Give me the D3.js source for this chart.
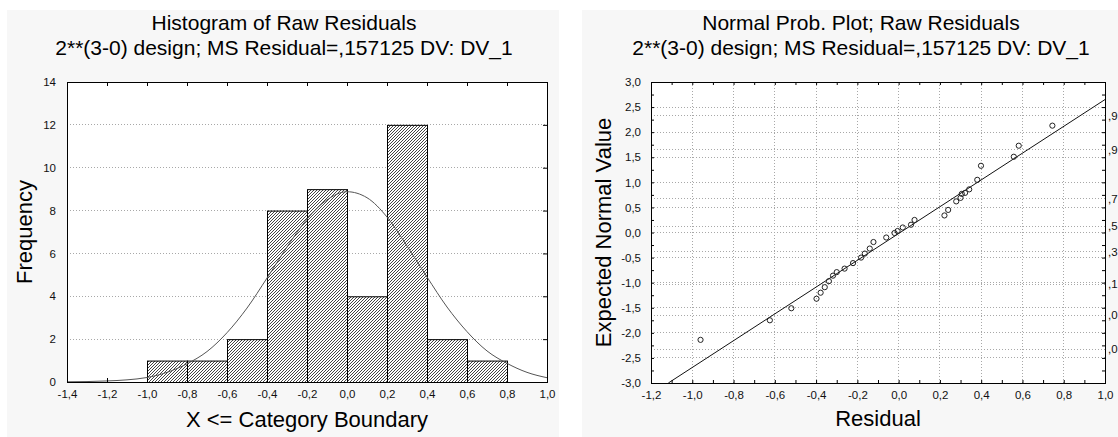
<!DOCTYPE html>
<html>
<head>
<meta charset="utf-8">
<script src="https://cdn.jsdelivr.net/npm/d3@7"></script>
<style>
  html, body { margin: 0; padding: 0; background: #ffffff; }
  svg { display: block; font-family: "Liberation Sans", Arial, sans-serif; }
</style>
</head>
<body>
<svg id="chart" width="1118" height="437"></svg>
<script>
// ---------------- DATA ----------------
// Histogram of raw residuals (bins are (start, end])
const binStart  = [-1.0, -0.8, -0.6, -0.4, -0.2, 0.0, 0.2, 0.4, 0.6];
const binEnd    = [-0.8, -0.6, -0.4, -0.2, 0.0, 0.2, 0.4, 0.6, 0.8];
const binCounts = [1, 1, 2, 8, 9, 4, 12, 2, 1];

// Fitted normal curve
const curveX = [-1.4, -1.3, -1.2, -1.1, -1.0, -0.9, -0.8, -0.7, -0.6, -0.5, -0.4, -0.3, -0.2, -0.1,
                 0.0, 0.1, 0.2, 0.3, 0.4, 0.5, 0.6, 0.7, 0.8, 0.9, 1.0];
const curveY = [0.01, 0.02, 0.05, 0.1, 0.21, 0.45, 0.85, 1.42, 2.3, 3.45, 4.85, 6.3, 7.6, 8.5,
                8.88, 8.6, 7.7, 6.35, 4.9, 3.5, 2.35, 1.45, 0.87, 0.45, 0.2];

const histXTicks = [-1.4, -1.2, -1.0, -0.8, -0.6, -0.4, -0.2, 0.0, 0.2, 0.4, 0.6, 0.8, 1.0];
const histYTicks = [0, 2, 4, 6, 8, 10, 12, 14];

// Normal probability plot: residual vs expected normal value
const residuals = [-0.96, -0.624, -0.52, -0.398, -0.378, -0.358, -0.338, -0.318, -0.30, -0.262,
                   -0.221, -0.182, -0.164, -0.140, -0.122, -0.06, -0.02, -0.005, 0.02, 0.06,
                   0.077, 0.222, 0.24, 0.279, 0.30, 0.306, 0.322, 0.342, 0.381, 0.399,
                   0.558, 0.582, 0.745];
const expectedNormal = [-2.14, -1.75, -1.51, -1.32, -1.20, -1.09, -0.97, -0.86, -0.79, -0.72,
                        -0.61, -0.50, -0.42, -0.32, -0.19, -0.10, -0.01, 0.03, 0.10, 0.155,
                        0.25, 0.34, 0.45, 0.62, 0.69, 0.77, 0.79, 0.86, 1.05, 1.33,
                        1.51, 1.73, 2.13];
// Reference line end points
const lineX = [-1.116, 1.0];
const lineY = [-3.0, 2.65];

const probXTicks = [-1.2, -1.0, -0.8, -0.6, -0.4, -0.2, 0.0, 0.2, 0.4, 0.6, 0.8, 1.0];
const probYTicks = [-3.0, -2.5, -2.0, -1.5, -1.0, -0.5, 0.0, 0.5, 1.0, 1.5, 2.0, 2.5, 3.0];
// probability labels (visible part at the picture's right edge)
const probLabels = [",9", ",9", ",7", ",5", ",3", ",1", ",0", ",0"];
const probLabelZ = [2.326, 1.645, 0.674, 0.126, -0.385, -1.036, -1.645, -2.326];

const titleL1 = "Histogram of Raw Residuals";
const titleR1 = "Normal Prob. Plot; Raw Residuals";
const subTitle = "2**(3-0) design; MS Residual=,157125 DV: DV_1";

// ---------------- DRAWING ----------------
const svg = d3.select("#chart");
const fmt1 = v => v.toFixed(1).replace(".", ",");
const fmt0 = v => String(v);
const TICK_FS = 11.5, TITLE_FS = 21, AXT_FS = 22;

// Panel backgrounds
svg.append("rect").attr("x", 7).attr("y", 10).attr("width", 552).attr("height", 427).attr("fill", "#f7f7f7");
svg.append("rect").attr("x", 582).attr("y", 10).attr("width", 536).attr("height", 427).attr("fill", "#f7f7f7");

// Hatch pattern
const defs = svg.append("defs");
const pat = defs.append("pattern").attr("id", "hatch").attr("patternUnits", "userSpaceOnUse")
  .attr("width", 3).attr("height", 3);
pat.append("rect").attr("width", 3).attr("height", 3).attr("fill", "#ffffff");
pat.append("path").attr("d", "M-1,1 L1,-1 M0,3 L3,0 M2,4 L4,2")
  .attr("stroke", "#222").attr("stroke-width", 0.85);

defs.append("clipPath").attr("id", "clipR").append("rect")
  .attr("x", 651).attr("y", 82).attr("width", 454).attr("height", 301);

// ---------- LEFT: histogram ----------
const xL = d3.scaleLinear().domain([-1.4, 1.0]).range([67, 547]);
const yL = d3.scaleLinear().domain([0, 14]).range([382, 82]);
const gL = svg.append("g");

gL.append("rect").attr("x", xL(-1.4)).attr("y", yL(14))
  .attr("width", xL(1.0) - xL(-1.4)).attr("height", yL(0) - yL(14)).attr("fill", "#fff");

// grid
gL.append("g").selectAll("line").data(histYTicks.filter(d => d > 0 && d < 14)).join("line")
  .attr("x1", xL(-1.4)).attr("x2", xL(1.0)).attr("y1", d => yL(d)).attr("y2", d => yL(d))
  .attr("stroke", "#a8a8a8").attr("stroke-dasharray", "1,2").attr("stroke-width", 1)
  .attr("shape-rendering", "crispEdges");

// bars
gL.append("g").selectAll("rect").data(binCounts).join("rect")
  .attr("x", (d, i) => xL(binStart[i]) + 0.5)
  .attr("y", d => yL(d) + 0.5)
  .attr("width", (d, i) => xL(binEnd[i]) - xL(binStart[i]))
  .attr("height", d => yL(0) - yL(d))
  .attr("fill", "url(#hatch)").attr("stroke", "#000").attr("stroke-width", 1);

// normal curve
const curveLine = d3.line().x(d => xL(d[0])).y(d => yL(d[1])).curve(d3.curveMonotoneX);
gL.append("path").datum(curveX.map((x, i) => [x, curveY[i]]))
  .attr("d", curveLine).attr("fill", "none").attr("stroke", "#555").attr("stroke-width", 1);

// axes
const axL = (sel, axis) => sel.call(axis).call(g => g.select(".domain").remove())
  .call(g => g.selectAll("text").attr("font-size", TICK_FS).attr("fill", "#111").attr("font-family", "Liberation Sans, Arial, sans-serif"))
  .call(g => g.selectAll("line").attr("stroke", "#000"));
gL.append("g").attr("transform", `translate(0,${yL(0)})`)
  .call(g => axL(g, d3.axisBottom(xL).tickValues(histXTicks).tickFormat(fmt1).tickSizeInner(-4).tickSizeOuter(0).tickPadding(8)));
gL.append("g").attr("transform", `translate(0,${yL(14)})`)
  .call(g => axL(g, d3.axisTop(xL).tickValues(histXTicks).tickFormat("").tickSizeInner(-4).tickSizeOuter(0)));
gL.append("g").attr("transform", `translate(${xL(-1.4)},0)`)
  .call(g => axL(g, d3.axisLeft(yL).tickValues(histYTicks).tickFormat(fmt0).tickSizeInner(0).tickSizeOuter(0).tickPadding(11)));
gL.append("g").attr("transform", `translate(${xL(1.0)},0)`)
  .call(g => axL(g, d3.axisRight(yL).tickValues(histYTicks).tickFormat("").tickSizeInner(-4).tickSizeOuter(0)));

gL.append("rect").attr("x", xL(-1.4) + 0.5).attr("y", yL(14) + 0.5)
  .attr("width", xL(1.0) - xL(-1.4)).attr("height", yL(0) - yL(14))
  .attr("fill", "none").attr("stroke", "#000").attr("stroke-width", 1);

// titles
gL.append("text").attr("x", 284).attr("y", 30).attr("text-anchor", "middle").attr("font-size", TITLE_FS).text(titleL1);
gL.append("text").attr("x", 284).attr("y", 55).attr("text-anchor", "middle").attr("font-size", TITLE_FS).text(subTitle);
gL.append("text").attr("transform", `translate(32,${(yL(0) + yL(14)) / 2}) rotate(-90)`)
  .attr("text-anchor", "middle").attr("font-size", AXT_FS).text("Frequency");
gL.append("text").attr("x", (xL(-1.4) + xL(1.0)) / 2).attr("y", 427).attr("text-anchor", "middle")
  .attr("font-size", AXT_FS).text("X <= Category Boundary");

// ---------- RIGHT: normal probability plot ----------
const xR = d3.scaleLinear().domain([-1.2, 1.0]).range([651, 1105]);
const yR = d3.scaleLinear().domain([-3, 3]).range([383, 82]);
const gR = svg.append("g");

gR.append("rect").attr("x", xR(-1.2)).attr("y", yR(3))
  .attr("width", xR(1.0) - xR(-1.2)).attr("height", yR(-3) - yR(3)).attr("fill", "#fff");

const gridStyle = s => s.attr("stroke", "#a8a8a8").attr("stroke-dasharray", "1,2").attr("stroke-width", 1)
  .attr("shape-rendering", "crispEdges");
gR.append("g").selectAll("line").data(probXTicks.slice(1, -1)).join("line")
  .attr("x1", d => xR(d)).attr("x2", d => xR(d)).attr("y1", yR(3)).attr("y2", yR(-3)).call(gridStyle);
gR.append("g").selectAll("line").data(probYTicks.slice(1, -1)).join("line")
  .attr("x1", xR(-1.2)).attr("x2", xR(1.0)).attr("y1", d => yR(d)).attr("y2", d => yR(d)).call(gridStyle);
gR.append("g").selectAll("line").data(probLabelZ).join("line")
  .attr("x1", xR(-1.2)).attr("x2", xR(1.0)).attr("y1", d => yR(d)).attr("y2", d => yR(d)).call(gridStyle);

// fitted line
gR.append("line").attr("clip-path", "url(#clipR)")
  .attr("x1", xR(lineX[0])).attr("y1", yR(lineY[0])).attr("x2", xR(lineX[1])).attr("y2", yR(lineY[1]))
  .attr("stroke", "#111").attr("stroke-width", 1);

// points
gR.append("g").selectAll("circle").data(residuals).join("circle")
  .attr("cx", d => xR(d)).attr("cy", (d, i) => yR(expectedNormal[i])).attr("r", 2.6)
  .attr("fill", "none").attr("stroke", "#222").attr("stroke-width", 1);

// axes
const minorX = d3.range(-12, 11).map(v => v / 10);
const minorY = d3.range(-12, 13).map(v => v / 4);
gR.append("g").attr("transform", `translate(0,${yR(-3)})`)
  .call(g => axL(g, d3.axisBottom(xR).tickValues(probXTicks).tickFormat(fmt1).tickSizeInner(0).tickSizeOuter(0).tickPadding(8)));
gR.append("g").attr("transform", `translate(0,${yR(-3)})`)
  .call(g => axL(g, d3.axisBottom(xR).tickValues(minorX).tickFormat("").tickSizeInner(-3).tickSizeOuter(0)));
gR.append("g").attr("transform", `translate(0,${yR(3)})`)
  .call(g => axL(g, d3.axisTop(xR).tickValues(minorX).tickFormat("").tickSizeInner(-3).tickSizeOuter(0)));
gR.append("g").attr("transform", `translate(${xR(-1.2)},0)`)
  .call(g => axL(g, d3.axisLeft(yR).tickValues(probYTicks).tickFormat(fmt1).tickSizeInner(0).tickSizeOuter(0).tickPadding(10)));
gR.append("g").attr("transform", `translate(${xR(-1.2)},0)`)
  .call(g => axL(g, d3.axisLeft(yR).tickValues(minorY).tickFormat("").tickSizeInner(-3).tickSizeOuter(0)));
gR.append("g").attr("transform", `translate(${xR(1.0)},0)`)
  .call(g => axL(g, d3.axisRight(yR).tickValues(minorY).tickFormat("").tickSizeInner(-3).tickSizeOuter(0)));

gR.append("rect").attr("x", xR(-1.2) + 0.5).attr("y", yR(3) + 0.5)
  .attr("width", xR(1.0) - xR(-1.2)).attr("height", yR(-3) - yR(3))
  .attr("fill", "none").attr("stroke", "#000").attr("stroke-width", 1);

// probability labels at right
gR.append("g").selectAll("text").data(probLabels).join("text")
  .attr("x", 1108).attr("y", (d, i) => yR(probLabelZ[i]) + 4)
  .attr("font-size", TICK_FS).attr("fill", "#111").text(d => d);

gR.append("text").attr("x", 861).attr("y", 30).attr("text-anchor", "middle").attr("font-size", TITLE_FS).text(titleR1);
gR.append("text").attr("x", 861).attr("y", 55).attr("text-anchor", "middle").attr("font-size", TITLE_FS).text(subTitle);
gR.append("text").attr("transform", `translate(611,${(yR(-3) + yR(3)) / 2}) rotate(-90)`)
  .attr("text-anchor", "middle").attr("font-size", AXT_FS).text("Expected Normal Value");
gR.append("text").attr("x", (xR(-1.2) + xR(1.0)) / 2).attr("y", 426).attr("text-anchor", "middle")
  .attr("font-size", AXT_FS).text("Residual");
</script>
</body>
</html>
